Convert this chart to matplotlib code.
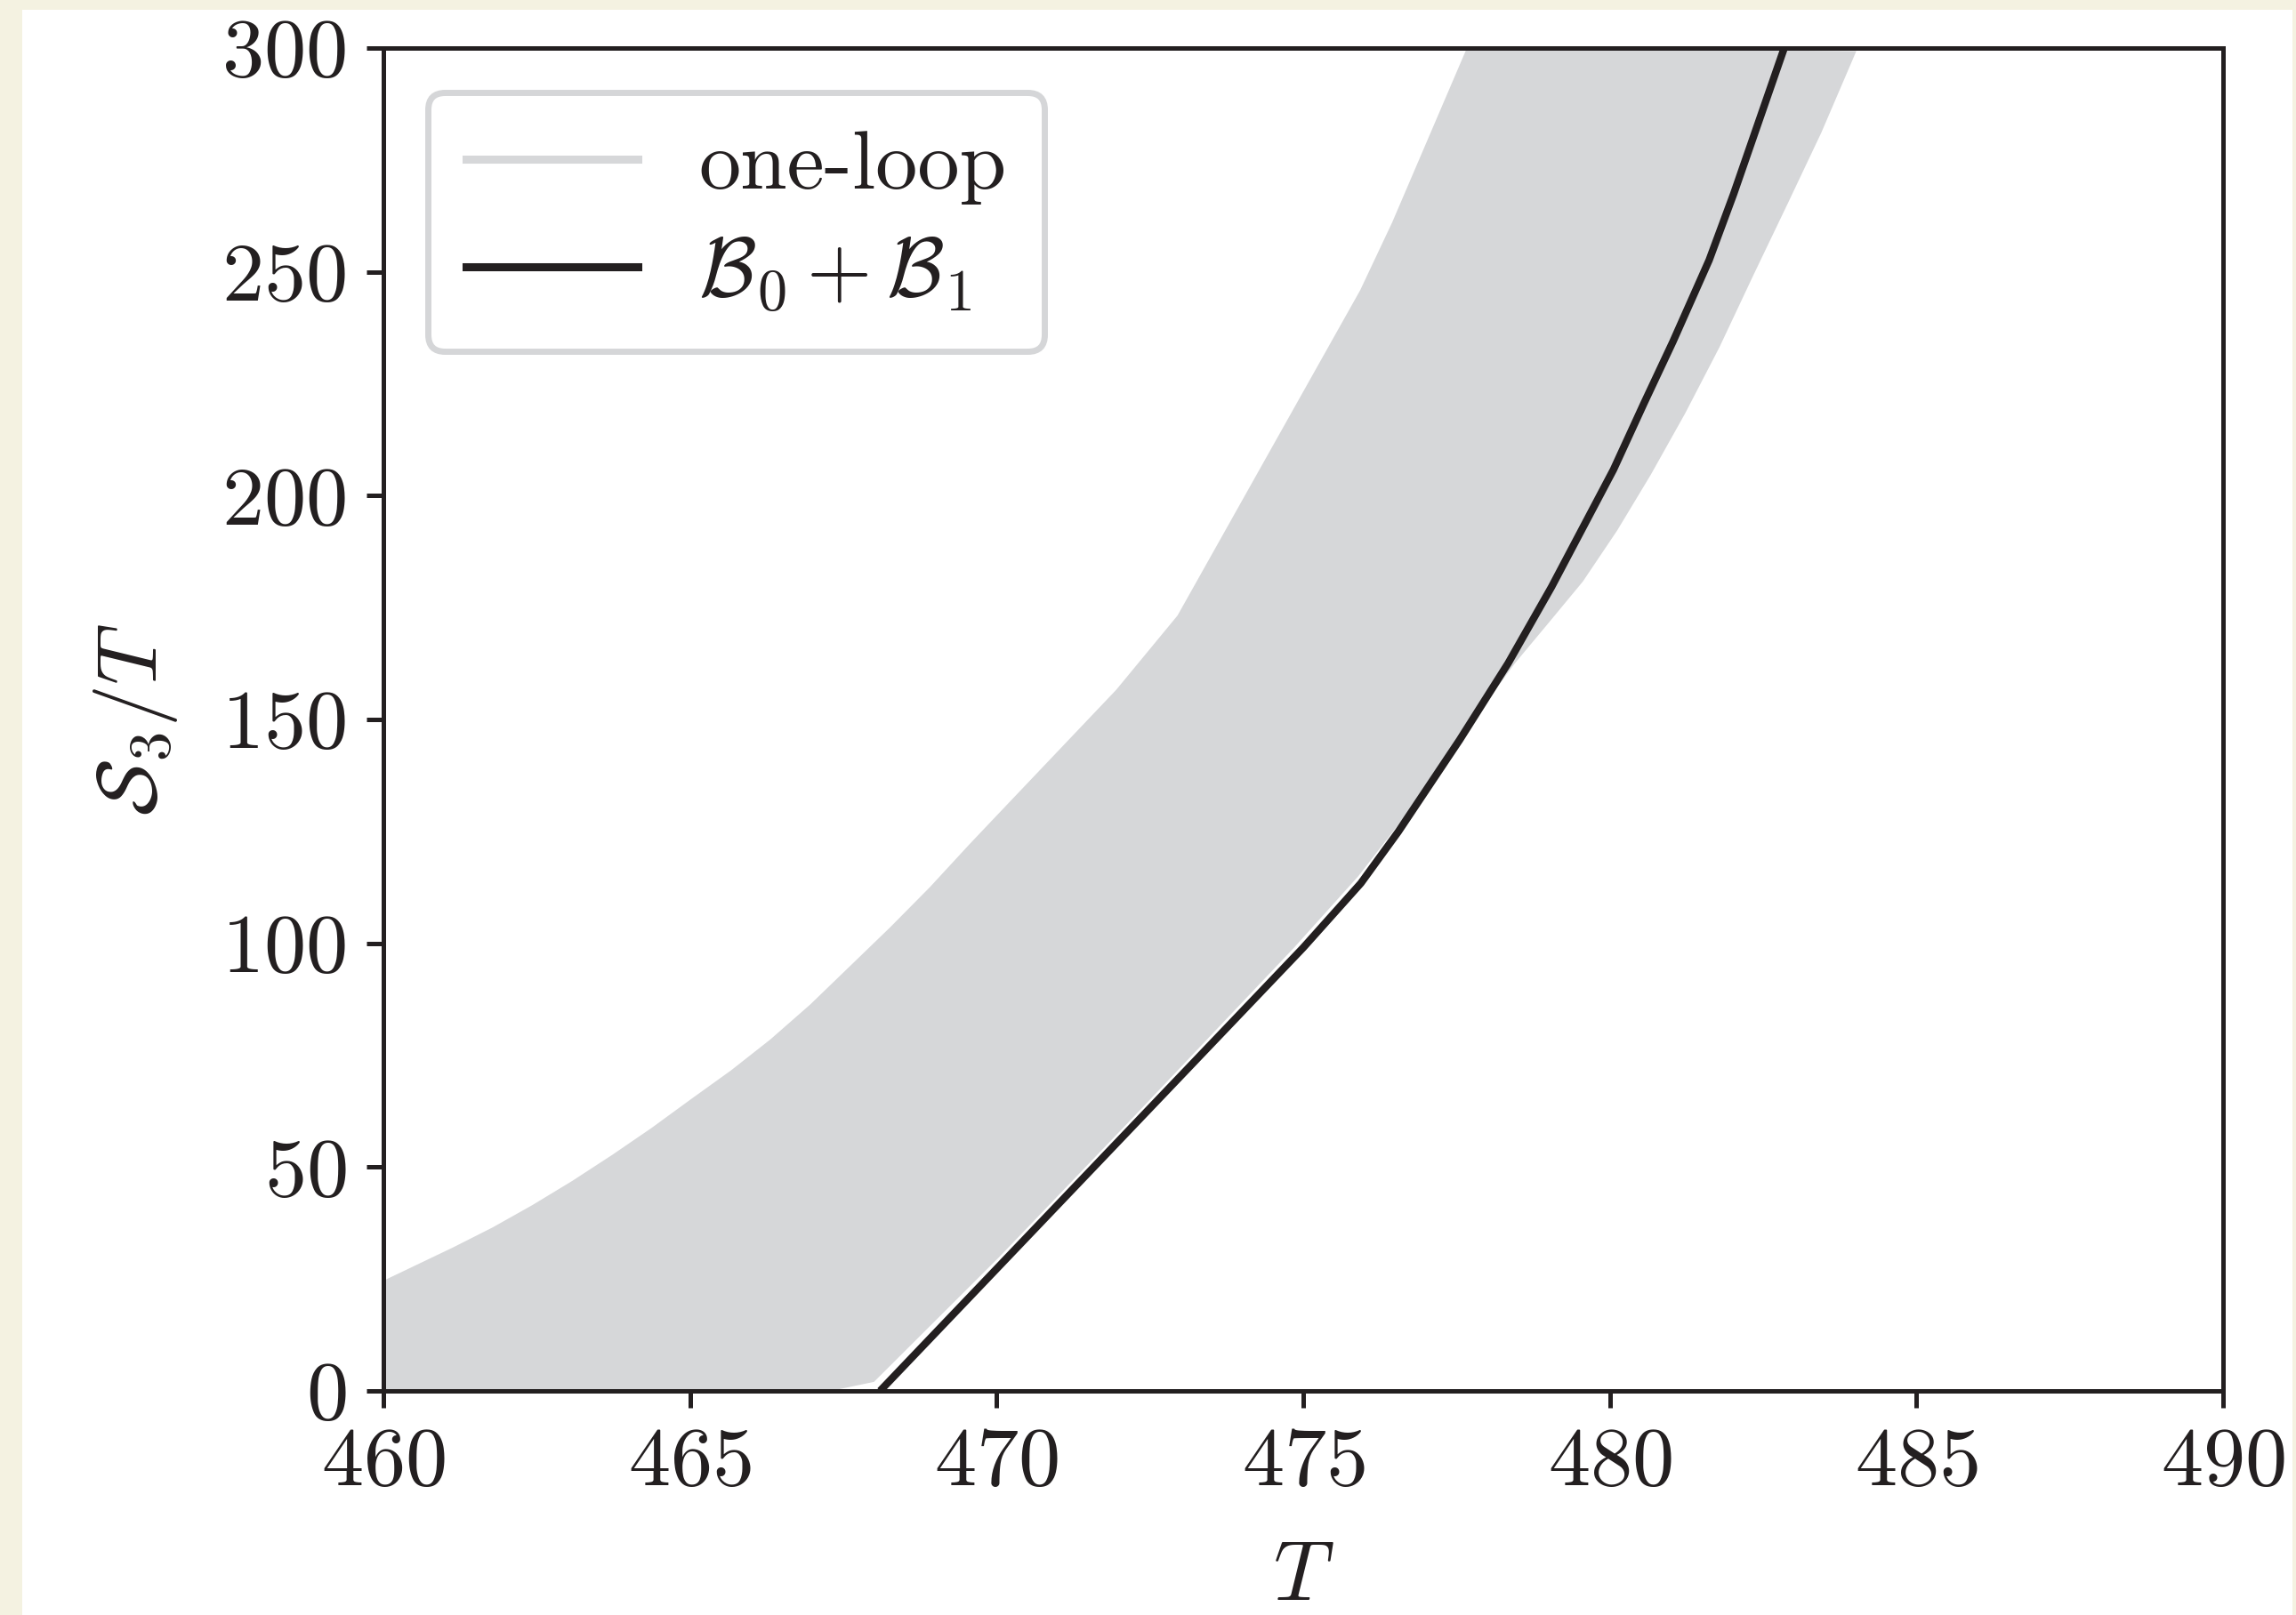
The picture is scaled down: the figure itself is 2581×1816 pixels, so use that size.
import numpy as np
import matplotlib
matplotlib.use("Agg")
import matplotlib.pyplot as plt
from matplotlib.lines import Line2D
from matplotlib.patches import Rectangle

plt.rcParams['font.family'] = 'serif'
plt.rcParams['font.serif'] = ['cmr10']
plt.rcParams['mathtext.fontset'] = 'cm'
plt.rcParams['axes.formatter.use_mathtext'] = True

# one-loop band: left (hot) edge and right (cold) edge, given as (T, S3/T)
band_left_T = [460.0, 460.0, 461.13, 461.78, 462.43, 463.08, 463.73, 464.37,
               465.02, 465.67, 466.31, 466.96, 467.61, 468.26, 468.91, 469.55,
               470.0, 471.95, 472.95, 475.93, 476.45, 477.67]
band_left_S = [0.0, 24.6, 32.0, 36.5, 41.5, 46.9, 52.7, 58.7,
               65.2, 71.6, 78.5, 86.3, 94.9, 103.5, 112.5, 122.0,
               128.5, 156.6, 173.2, 245.9, 261.0, 300.0]

band_right_T = [467.3, 468.0, 470.05, 472.15, 474.85, 475.9, 476.75, 477.51,
                477.9, 478.45, 479.01, 479.56, 480.12, 480.67, 481.23, 481.79,
                482.34, 482.9, 483.45, 484.02]
band_right_S = [0.0, 2.0, 30.0, 60.0, 99.0, 115.0, 130.0, 145.4,
                152.2, 162.5, 171.7, 180.8, 192.2, 204.7, 218.4, 233.2,
                249.2, 265.2, 281.1, 299.3]

# B0 + B1 curve
b01_T = [468.1, 475.0, 475.94, 476.55, 477.55, 478.34, 479.05, 480.06,
         480.56, 481.03, 481.62, 482.02, 482.84]
b01_S = [0.0, 99.0, 113.4, 124.9, 145.4, 162.5, 179.6, 205.8,
         220.7, 234.4, 252.6, 267.4, 299.8]

xticks = [460, 465, 470, 475, 480, 485, 490]
yticks = [0, 50, 100, 150, 200, 250, 300]

dark = '#231f20'
grey = '#d6d7d9'

fig = plt.figure(figsize=(25.81, 18.16), dpi=100)
fig.patch.set_facecolor('#f4f2e1')
fig.patches.append(Rectangle((25, 0), 2552, 1805, transform=None,
                             facecolor='white', edgecolor='none', zorder=-10))

ax = fig.add_axes([0.1670, 0.1388, 0.9682 - 0.1670, 0.9703 - 0.1388])

poly_T = np.concatenate([band_left_T, band_right_T[::-1]])
poly_S = np.concatenate([band_left_S, band_right_S[::-1]])
ax.fill(poly_T, poly_S, color=grey, lw=0, zorder=1)
ax.plot(b01_T, b01_S, color=dark, lw=6, zorder=3, solid_capstyle='butt',
        solid_joinstyle='round')

ax.set_xlim(460, 490)
ax.set_ylim(0, 300)
ax.set_xticks(xticks)
ax.set_yticks(yticks)

for sp in ax.spines.values():
    sp.set_color(dark)
    sp.set_linewidth(3.6)
ax.tick_params(labelsize=68, length=14, width=3.6, color=dark,
               labelcolor=dark, pad=16)

ax.set_xlabel(r'$T$', fontsize=68, color=dark, labelpad=33)
ax.set_ylabel(r'$\mathcal{S}_3/T$', fontsize=68, color=dark, labelpad=34)

handles = [Line2D([], [], color=grey, lw=6.5),
           Line2D([], [], color=dark, lw=6.5)]
labels = ['one-loop', r'$\mathcal{B}_0+\mathcal{B}_1$']
leg = ax.legend(handles, labels, loc='upper left',
                bbox_to_anchor=(0.0242, 0.967), borderaxespad=0,
                fontsize=68, handlelength=2.05, handletextpad=0.72,
                borderpad=0.45, labelspacing=0.36, frameon=True,
                fancybox=True, framealpha=1)
fr = leg.get_frame()
fr.set_edgecolor('#d5d6d8')
fr.set_linewidth(5)
for t in leg.get_texts():
    t.set_color(dark)

fig.savefig('out.png', dpi=100, facecolor=fig.get_facecolor())
